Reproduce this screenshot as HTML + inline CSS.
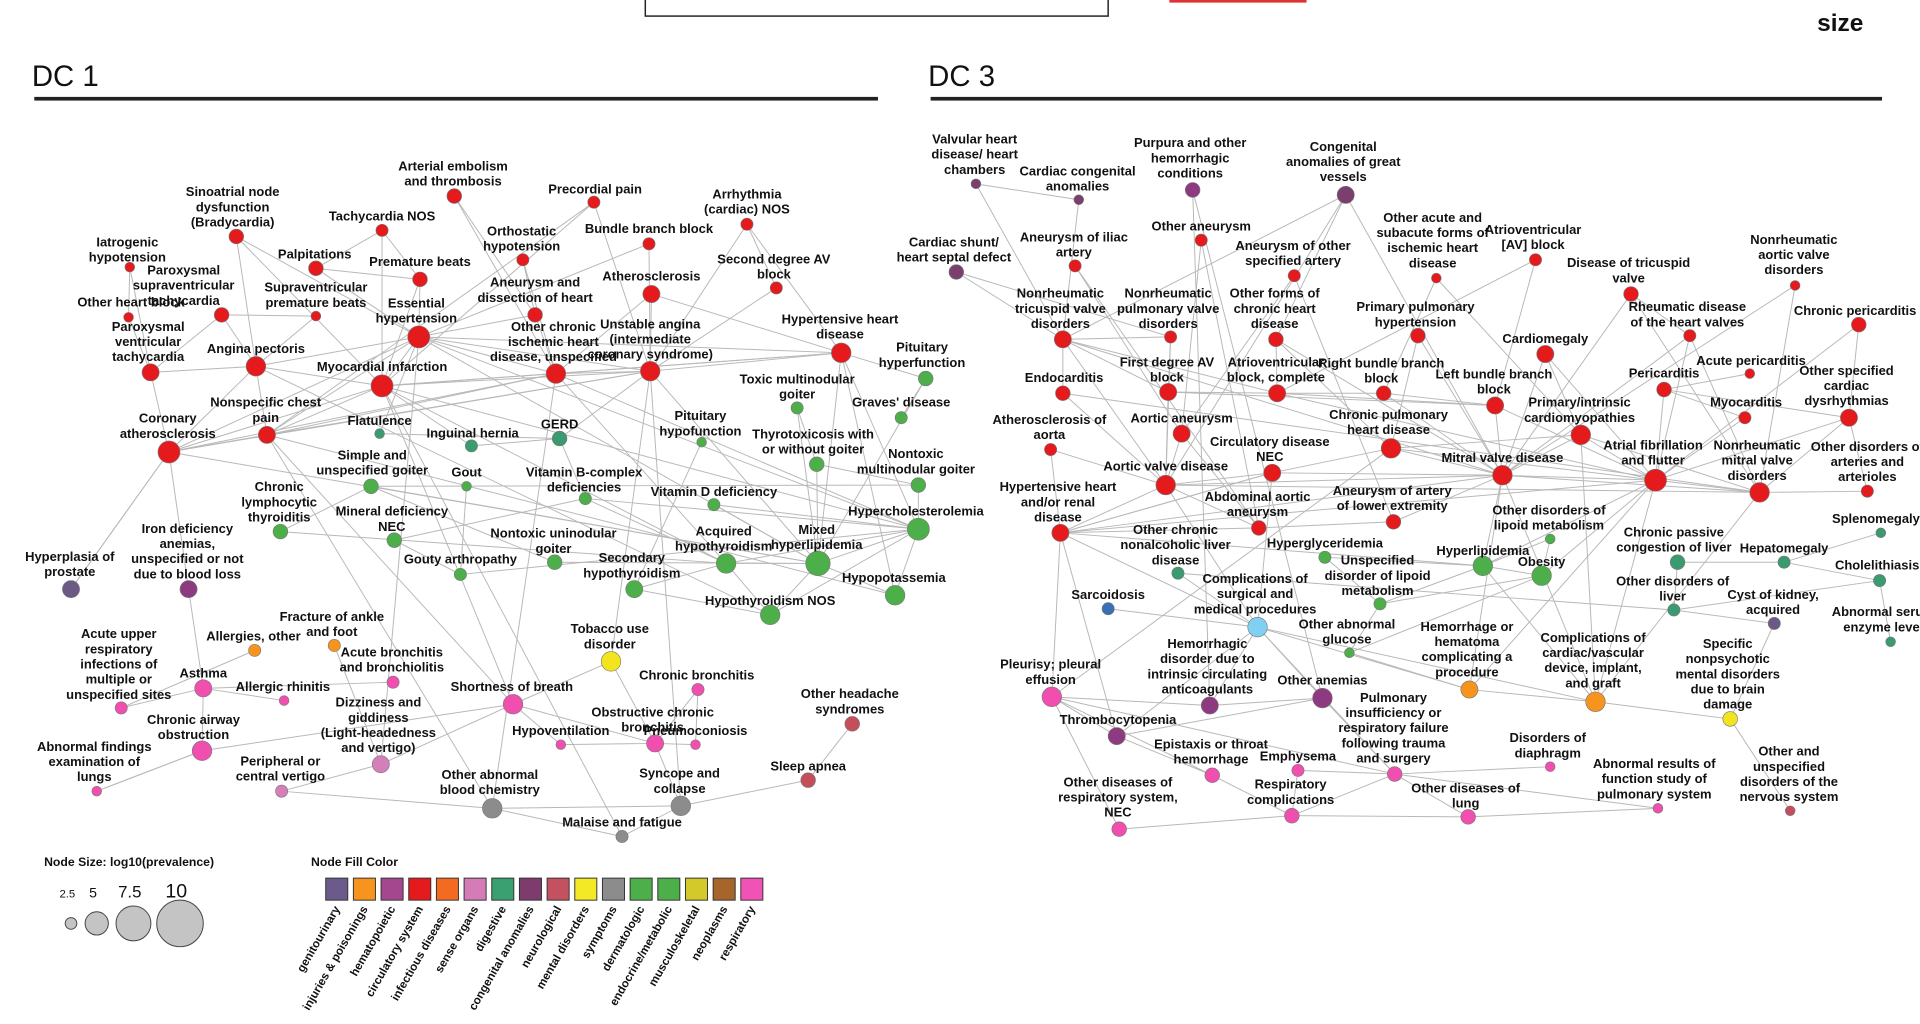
<!DOCTYPE html>
<html><head><meta charset="utf-8">
<style>
html,body{margin:0;padding:0;background:#fff;}
svg{display:block;font-family:"Liberation Sans",Arial,sans-serif;}
.lbl{font-size:10.6px;font-weight:bold;fill:#111;text-anchor:middle;}
</style></head>
<body>
<svg id="chart" width="1920" height="1024" viewBox="0 0 1568 836" xmlns="http://www.w3.org/2000/svg">
<g>
<rect x="527" y="-4" width="378" height="17" fill="none" stroke="#222" stroke-width="1.2"/>
<rect x="955" y="-2" width="112" height="4" fill="#d33" />
<text x="1484" y="25" font-size="20" font-weight="bold" fill="#111">size</text>
</g>
<g>
<text x="26" y="70" font-size="24" fill="#111">DC 1</text>
<rect x="28" y="79" width="689" height="3" fill="#222"/>
</g>
<g>
<text x="758" y="70" font-size="24" fill="#111">DC 3</text>
<rect x="760" y="79" width="777" height="3" fill="#222"/>
</g>
<g id="edges"></g>
<g id="nodes"></g>
<g id="legend"></g>
</svg>
<script>
const colorMap={c:"#e41a1c",e:"#4daf4a",d:"#3a9a70",p:"#f04fb0",g:"#6a5a85",o:"#f7941d",h:"#8e3a80",s:"#d57fb9",n:"#c44e5c",m:"#f2e41d",y:"#8c8c8c",k:"#7b3f6e",b:"#3b6fb5",l:"#7fd0f2"};
// [label, x, y, r, color, labelX, labelFirstLineY]
const dc1Nodes=[
["Sinoatrial node|dysfunction|(Bradycardia)",193,193,6,"c",190,160],
["Arterial embolism|and thrombosis",371,160,6,"c",370,139],
["Precordial pain",485,165,5,"c",486,158],
["Arrhythmia|(cardiac) NOS",610,183,5,"c",610,162],
["Tachycardia NOS",312,188,5,"c",312,180],
["Iatrogenic|hypotension",106,218,4,"c",104,201],
["Palpitations",258,219,6,"c",257,211],
["Orthostatic|hypotension",427,212,5,"c",426,192],
["Bundle branch block",530,199,5,"c",530,190],
["Second degree AV|block",634,235,5,"c",632,215],
["Premature beats",343,228,6,"c",343,217],
["Paroxysmal|supraventricular|tachycardia",181,257,6,"c",150,224],
["Supraventricular|premature beats",258,258,4,"c",258,238],
["Aneurysm and|dissection of heart",437,257,6,"c",437,234],
["Atherosclerosis",532,240,7,"c",532,229],
["Other heart block",105,259,4,"c",107,250],
["Essential|hypertension",342,275,9,"c",340,251],
["Other chronic|ischemic heart|disease, unspecified",454,305,8,"c",452,270],
["Unstable angina|(intermediate|coronary syndrome)",531,303,8,"c",531,268],
["Hypertensive heart|disease",687,288,8,"c",686,264],
["Paroxysmal|ventricular|tachycardia",123,304,7,"c",121,270],
["Angina pectoris",209,299,8,"c",209,288],
["Myocardial infarction",312,315,9,"c",312,303],
["Coronary|atherosclerosis",138,369,9,"c",137,345],
["Nonspecific chest|pain",218,355,7,"c",217,332],
["Flatulence",310,354,4,"d",310,347],
["Inguinal hernia",385,364,5,"d",386,357],
["GERD",457,358,6,"d",457,350],
["Simple and|unspecified goiter",303,397,6,"e",304,375],
["Gout",381,397,4,"e",381,389],
["Vitamin B-complex|deficiencies",478,407,5,"e",477,389],
["Pituitary|hypofunction",573,361,4,"e",572,343],
["Toxic multinodular|goiter",651,333,5,"e",651,313],
["Pituitary|hyperfunction",756,309,6,"e",753,287],
["Graves' disease",736,341,5,"e",736,332],
["Thyrotoxicosis with|or without goiter",667,379,6,"e",664,358],
["Nontoxic|multinodular goiter",750,396,6,"e",748,374],
["Vitamin D deficiency",583,412,5,"e",583,405],
["Hypercholesterolemia",750,432,9,"e",748,421],
["Chronic|lymphocytic|thyroiditis",229,434,6,"e",228,401],
["Mineral deficiency|NEC",322,441,6,"e",320,421],
["Nontoxic uninodular|goiter",453,459,6,"e",452,439],
["Acquired|hypothyroidism",593,460,8,"e",591,437],
["Mixed|hyperlipidemia",668,460,10,"e",667,436],
["Iron deficiency|anemias,|unspecified or not|due to blood loss",154,481,7,"h",153,435],
["Gouty arthropathy",376,469,5,"e",376,460],
["Secondary|hypothyroidism",518,481,7,"e",516,459],
["Hypopotassemia",731,486,8,"e",730,475],
["Hyperplasia of|prostate",58,481,7,"g",57,458],
["Hypothyroidism NOS",629,502,8,"e",629,494],
["Fracture of ankle|and foot",273,527,5,"o",271,507],
["Allergies, other",208,531,5,"o",207,523],
["Acute upper|respiratory|infections of|multiple or|unspecified sites",99,578,5,"p",97,521],
["Acute bronchitis|and bronchiolitis",321,557,5,"p",320,536],
["Tobacco use|disorder",499,540,8,"m",498,517],
["Asthma",166,562,7,"p",166,553],
["Allergic rhinitis",232,572,4,"p",231,564],
["Chronic bronchitis",570,563,5,"p",569,555],
["Shortness of breath",419,575,8,"p",418,564],
["Dizziness and|giddiness|(Light-headedness|and vertigo)",311,624,7,"s",309,577],
["Other headache|syndromes",696,591,6,"n",694,570],
["Chronic airway|obstruction",165,613,8,"p",158,591],
["Obstructive chronic|bronchitis",535,607,7,"p",533,585],
["Hypoventilation",458,608,4,"p",458,600],
["Pneumoconiosis",568,608,4,"p",568,600],
["Abnormal findings|examination of|lungs",79,646,4,"p",77,613],
["Peripheral or|central vertigo",230,646,5,"s",229,625],
["Sleep apnea",660,637,6,"n",660,629],
["Other abnormal|blood chemistry",402,660,8,"y",400,636],
["Syncope and|collapse",556,658,8,"y",555,635],
["Malaise and fatigue",508,683,5,"y",508,675]
];
const dc1Edges="1-17 1-22 1-23 2-18 2-14 3-19 3-25 3-23 4-10 4-20 4-19 5-11 5-7 5-23 6-16 6-21 7-11 7-17 8-14 8-18 9-19 9-17 10-19 11-17 11-23 12-13 12-21 12-22 13-22 14-17 14-18 15-19 15-20 15-18 16-21 17-18 17-19 17-20 17-22 17-23 17-24 17-25 17-39 17-44 18-19 18-20 18-23 18-24 18-25 19-20 19-23 19-24 19-25 20-23 20-39 20-44 21-22 21-24 22-23 22-24 22-25 23-24 23-25 23-39 24-25 24-49 24-44 25-59 25-69 23-59 26-28 27-28 28-31 29-40 29-42 29-37 33-36 34-35 36-37 36-44 37-39 39-44 39-43 39-48 39-50 43-44 43-47 43-50 44-48 44-50 47-50 41-31 41-46 30-46 32-47 38-44 38-39 31-43 40-43 45-56 45-24 49-24 53-56 54-56 56-62 57-56 59-63 59-64 59-62 63-70 63-65 62-66 59-60 69-70 70-71 69-71 55-63 55-59 58-63 61-68 68-70 60-67 67-69 64-63 66-62 52-53 51-60 18-39 19-44 18-43 23-43 22-50 25-48 20-48 34-44 33-44 20-34 42-44 29-44 46-39 31-39 28-19 27-23 26-17 55-19 60-17 69-18 70-19 71-23 65-58";
const dc3Nodes=[
["Valvular heart|disease/ heart|chambers",797,150,4,"k",796,117],
["Purpura and other|hemorrhagic|conditions",974,155,6,"h",972,120],
["Congenital|anomalies of great|vessels",1099,159,7,"k",1097,123],
["Cardiac congenital|anomalies",881,163,4,"k",880,143],
["Cardiac shunt/|heart septal defect",781,222,6,"k",779,201],
["Aneurysm of iliac|artery",878,217,5,"c",877,197],
["Other aneurysm",981,196,5,"c",981,188],
["Aneurysm of other|specified artery",1057,225,5,"c",1056,204],
["Other acute and|subacute forms of|ischemic heart|disease",1173,227,4,"c",1170,181],
["Atrioventricular|[AV] block",1254,212,5,"c",1252,191],
["Disease of tricuspid|valve",1332,240,6,"c",1330,218],
["Nonrheumatic|aortic valve|disorders",1466,233,4,"c",1465,199],
["Nonrheumatic|tricuspid valve|disorders",868,277,7,"c",866,243],
["Nonrheumatic|pulmonary valve|disorders",956,275,5,"c",954,243],
["Other forms of|chronic heart|disease",1042,277,6,"c",1041,243],
["Primary pulmonary|hypertension",1158,274,6,"c",1156,254],
["Rheumatic disease|of the heart valves",1380,274,5,"c",1378,254],
["Chronic pericarditis",1518,265,6,"c",1515,257],
["Cardiomegaly",1262,289,7,"c",1262,280],
["First degree AV|block",954,320,7,"c",953,299],
["Atrioventricular|block, complete",1043,321,7,"c",1042,299],
["Right bundle branch|block",1130,321,6,"c",1128,300],
["Left bundle branch|block",1221,331,7,"c",1220,309],
["Acute pericarditis",1429,305,4,"c",1430,298],
["Pericarditis",1359,318,6,"c",1359,308],
["Other specified|cardiac|dysrhythmias",1510,341,7,"c",1508,306],
["Endocarditis",868,321,6,"c",869,312],
["Primary/intrinsic|cardiomyopathies",1291,355,8,"c",1290,332],
["Myocarditis",1425,341,5,"c",1426,332],
["Atherosclerosis of|aorta",858,367,5,"c",857,346],
["Aortic aneurysm",965,354,7,"c",965,345],
["Chronic pulmonary|heart disease",1136,366,8,"c",1134,342],
["Circulatory disease|NEC",1039,386,7,"c",1037,364],
["Atrial fibrillation|and flutter",1352,392,9,"c",1350,367],
["Nonrheumatic|mitral valve|disorders",1437,402,8,"c",1435,367],
["Other disorders of|arteries and|arterioles",1525,401,5,"c",1525,368],
["Aortic valve disease",952,396,8,"c",952,384],
["Mitral valve disease",1227,388,8,"c",1227,377],
["Hypertensive heart|and/or renal|disease",866,435,7,"c",864,401],
["Abdominal aortic|aneurysm",1028,431,6,"c",1027,409],
["Aneurysm of artery|of lower extremity",1138,426,6,"c",1137,404],
["Other disorders of|lipoid metabolism",1266,440,4,"e",1265,420],
["Chronic passive|congestion of liver",1370,459,6,"d",1367,438],
["Hepatomegaly",1457,459,5,"d",1457,451],
["Splenomegaly",1536,435,4,"d",1532,427],
["Cholelithiasis",1535,474,5,"d",1533,465],
["Other chronic|nonalcoholic liver|disease",962,468,5,"d",960,436],
["Hyperglyceridemia",1082,455,5,"e",1082,447],
["Hyperlipidemia",1211,462,8,"e",1211,453],
["Obesity",1259,470,8,"e",1259,462],
["Unspecified|disorder of lipoid|metabolism",1127,493,5,"e",1125,461],
["Other disorders of|liver",1367,498,5,"d",1366,478],
["Cyst of kidney,|acquired",1449,509,5,"g",1448,489],
["Abnormal serum|enzyme level",1544,524,4,"d",1538,503],
["Sarcoidosis",905,497,5,"b",905,489],
["Complications of|surgical and|medical procedures",1027,512,8,"l",1025,476],
["Other abnormal|glucose",1102,533,4,"e",1100,513],
["Hemorrhage or|hematoma|complicating a|procedure",1200,563,7,"o",1198,515],
["Complications of|cardiac/vascular|device, implant,|and graft",1303,573,8,"o",1301,524],
["Specific|nonpsychotic|mental disorders|due to brain|damage",1413,587,6,"m",1411,529],
["Pleurisy; pleural|effusion",859,569,8,"p",858,546],
["Hemorrhagic|disorder due to|intrinsic circulating|anticoagulants",988,576,7,"h",986,529],
["Other anemias",1080,570,8,"h",1080,559],
["Thrombocytopenia",912,601,7,"h",913,591],
["Pulmonary|insufficiency or|respiratory failure|following trauma|and surgery",1139,632,6,"p",1138,573],
["Disorders of|diaphragm",1266,626,4,"p",1264,606],
["Epistaxis or throat|hemorrhage",990,633,6,"p",989,611],
["Emphysema",1060,629,5,"p",1060,621],
["Abnormal results of|function study of|pulmonary system",1354,660,4,"p",1351,627],
["Other and|unspecified|disorders of the|nervous system",1462,662,4,"n",1461,617],
["Other diseases of|respiratory system,|NEC",914,677,6,"p",913,642],
["Respiratory|complications",1055,666,6,"p",1054,644],
["Other diseases of|lung",1199,667,6,"p",1197,647]
];
const dc3Edges="1-13 1-4 2-62 2-63 3-13 3-37 3-15 3-38 4-13 5-13 5-14 6-40 6-31 7-31 7-40 8-41 8-31 9-28 9-22 10-21 10-23 11-35 11-38 11-17 12-35 12-38 13-20 13-27 13-37 13-38 13-14 13-21 14-20 14-37 15-32 15-38 15-21 16-32 16-38 17-34 17-38 17-35 18-26 18-34 19-28 19-38 19-34 20-21 20-37 20-23 21-22 21-23 21-34 22-23 22-38 23-34 23-38 24-25 25-26 25-34 26-34 26-35 27-37 27-35 28-34 28-38 28-35 29-34 29-25 30-37 30-39 31-40 31-37 32-38 32-28 32-33 32-34 33-37 33-39 33-38 34-35 34-38 34-39 35-38 35-37 36-35 36-26 37-39 37-38 37-40 38-39 39-40 39-33 39-49 38-49 34-49 34-50 41-38 41-40 42-49 42-50 43-44 43-52 44-46 45-44 46-52 47-52 47-56 48-49 48-51 49-50 49-51 50-51 51-57 50-57 53-52 55-56 56-62 56-58 56-59 56-64 56-65 57-58 58-59 59-60 61-64 61-65 61-67 61-71 62-63 63-64 63-56 64-67 65-72 65-73 65-68 66-65 67-72 68-72 69-65 69-73 70-60 71-72 72-73 39-56 33-56 37-56 34-59 38-59 35-59 39-61 39-64 32-61 28-59 34-58 38-58 49-59 61-62 63-65 60-53 54-46";
const legendCats=["genitourinary","injuries & poisonings","hematopoietic","circulatory system","infectious diseases","sense organs","digestive","congenital anomalies","neurological","mental disorders","symptoms","dermatologic","endocrine/metabolic","musculoskeletal","neoplasms","respiratory"];
const legendColors=["#6b5b8a","#f7941d","#a5478f","#e41a1c","#f26b21","#d37cb5","#3aa071","#7d3c6b","#c3515f","#f4e925","#8c8c8c","#4daf4a","#4daf4a","#d4c92a","#a6652a","#f052b5"];
const sizeVals=[2.5,5,7.5,10];

const NS="http://www.w3.org/2000/svg";
const eG=document.getElementById('edges'), nG=document.getElementById('nodes'), lG=document.getElementById('legend');
function mk(t,a){const e=document.createElementNS(NS,t);for(const k in a)e.setAttribute(k,a[k]);return e;}
function drawPanel(nodes,edges,prefix){
  edges.split(' ').forEach(p=>{
    const [a,b]=p.split('-').map(Number);const A=nodes[a-1],B=nodes[b-1];
    const l=mk('line',{x1:A[1],y1:A[2],x2:B[1],y2:B[2],stroke:"#b8b8b8","stroke-width":0.8});
    
    
    eG.appendChild(l);
  });
  nodes.forEach(n=>{
    const c=mk('circle',{cx:n[1],cy:n[2],r:n[3],fill:colorMap[n[4]],stroke:"#777","stroke-width":0.5});
    
    
    nG.appendChild(c);
    const t=mk('text',{class:'lbl',x:n[5],y:n[6]});
    
    
    n[0].split('|').forEach((s,i)=>{const ts=mk('tspan',{x:n[5],dy:i?12.4:0});ts.textContent=s;t.appendChild(ts);});
    nG.appendChild(t);
  });
}
drawPanel(dc1Nodes,dc1Edges,'dc1');
drawPanel(dc3Nodes,dc3Edges,'dc3');

// size legend
let t=mk('text',{x:36,y:707,"font-size":10,"font-weight":"bold",fill:"#111"});t.textContent="Node Size: log10(prevalence)";


lG.appendChild(t);
const sizeX=[58,79,109,147];
sizeVals.forEach((v,i)=>{
  const r=1.9*v;
  const c=mk('circle',{cx:sizeX[i],cy:754,r:r,fill:"#c4c4c4",stroke:"#444","stroke-width":0.8});
  
  
  lG.appendChild(c);
  const tt=mk('text',{x:sizeX[i]-3,y:733,"font-size":7+v*0.9,"text-anchor":"middle",fill:"#111"});tt.textContent=String(v);
  
  
  lG.appendChild(tt);
});
t=mk('text',{x:254,y:707,"font-size":10,"font-weight":"bold",fill:"#111"});t.textContent="Node Fill Color";


lG.appendChild(t);
legendCats.forEach((cat,i)=>{
  const x=266+i*22.6;
  const r=mk('rect',{x:x,y:717,width:18,height:18,fill:legendColors[i],stroke:"#333","stroke-width":0.8});
  
  
  lG.appendChild(r);
  const tx=mk('text',{x:x+12,y:742,"font-size":9.5,"font-weight":"bold","text-anchor":"end",fill:"#111",transform:`rotate(-60 ${x+12} 742)`});tx.textContent=cat;
  
  
  lG.appendChild(tx);
});
</script>
</body></html>
